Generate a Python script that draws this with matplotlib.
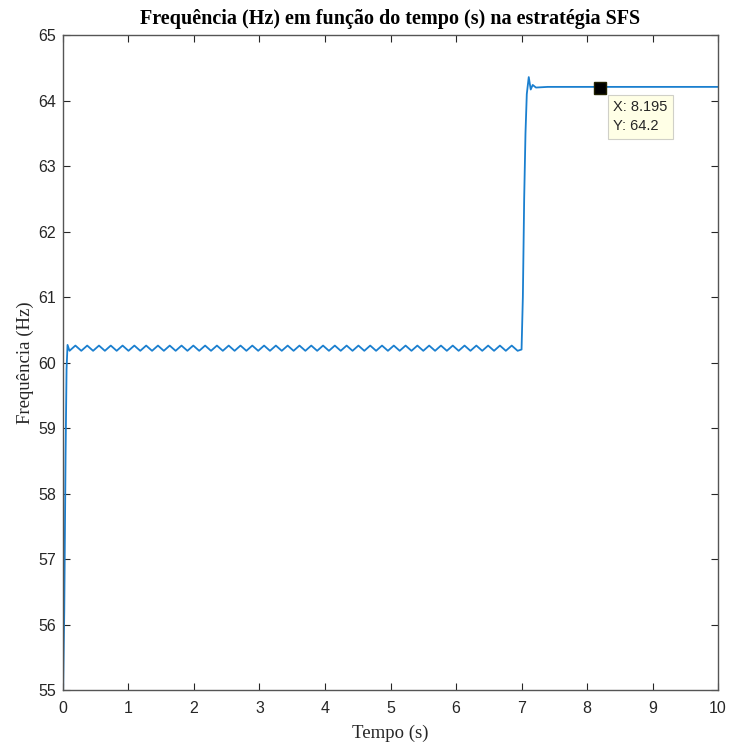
import numpy as np
import matplotlib.pyplot as plt

# Frequency signal
tempo = [0.0, 0.02, 0.04, 0.055, 0.07,
         0.10, 0.19, 0.28, 0.37, 0.46, 0.55, 0.64, 0.73, 0.82, 0.91,
         1.00, 1.09, 1.18, 1.27, 1.36, 1.45, 1.54, 1.63, 1.72, 1.81,
         1.90, 1.99, 2.08, 2.17, 2.26, 2.35, 2.44, 2.53, 2.62, 2.71,
         2.80, 2.89, 2.98, 3.07, 3.16, 3.25, 3.34, 3.43, 3.52, 3.61,
         3.70, 3.79, 3.88, 3.97, 4.06, 4.15, 4.24, 4.33, 4.42, 4.51,
         4.60, 4.69, 4.78, 4.87, 4.96, 5.05, 5.14, 5.23, 5.32, 5.41,
         5.50, 5.59, 5.68, 5.77, 5.86, 5.95, 6.04, 6.13, 6.22, 6.31,
         6.40, 6.49, 6.58, 6.67, 6.76, 6.85, 6.94,
         7.00, 7.02, 7.04, 7.06, 7.08, 7.11, 7.14, 7.17, 7.22, 7.40, 10.0]
freq = [54.8, 56.2, 58.6, 59.9, 60.27,
        60.18, 60.26, 60.18, 60.26, 60.18, 60.26, 60.18, 60.26, 60.18, 60.26,
        60.18, 60.26, 60.18, 60.26, 60.18, 60.26, 60.18, 60.26, 60.18, 60.26,
        60.18, 60.26, 60.18, 60.26, 60.18, 60.26, 60.18, 60.26, 60.18, 60.26,
        60.18, 60.26, 60.18, 60.26, 60.18, 60.26, 60.18, 60.26, 60.18, 60.26,
        60.18, 60.26, 60.18, 60.26, 60.18, 60.26, 60.18, 60.26, 60.18, 60.26,
        60.18, 60.26, 60.18, 60.26, 60.18, 60.26, 60.18, 60.26, 60.18, 60.26,
        60.18, 60.26, 60.18, 60.26, 60.18, 60.26, 60.18, 60.26, 60.18, 60.26,
        60.18, 60.26, 60.18, 60.26, 60.18, 60.26, 60.18,
        60.20, 61.0, 62.5, 63.5, 64.1, 64.36, 64.17, 64.24, 64.20, 64.21, 64.21]

tip_x = 8.195
tip_y = 64.2
x_ticks = list(range(0, 11))
y_ticks = list(range(55, 66))

fig = plt.figure(figsize=(7.32, 7.48), dpi=100)
ax = fig.add_axes([0.086, 0.0775, 0.895, 0.8755])

ax.plot(tempo, freq, color='#1a7fcf', lw=1.3)
ax.plot(tip_x, tip_y, marker='s', ms=8.5, color='black', markeredgecolor='#222200', zorder=5)
ax.annotate("X: 8.195\nY: 64.2", xy=(tip_x, tip_y), xytext=(9.8, -9.1),
            textcoords='offset points', ha='left', va='top', fontsize=10.5,
            family='Liberation Sans', linespacing=1.45, color='#262626',
            bbox=dict(boxstyle='square,pad=0.38', fc='#FFFFE6', ec='#D0D0C8', lw=0.8),
            zorder=6)

ax.set_xlim(0, 10)
ax.set_ylim(55, 65)
ax.set_xticks(x_ticks)
ax.set_yticks(y_ticks)
ax.tick_params(direction='in', top=True, right=True, length=5, width=0.8,
               labelsize=11.5, colors='#262626')
ax.tick_params(axis='x', pad=8)
ax.tick_params(axis='y', pad=5)
for lab in ax.get_xticklabels() + ax.get_yticklabels():
    lab.set_family('Liberation Sans')
for s in ax.spines.values():
    s.set_color('#555555')
    s.set_linewidth(1.0)

ax.set_title("Frequência (Hz) em função do tempo (s) na estratégia SFS",
             family='Liberation Serif', fontweight='bold', fontsize=14.5, pad=8)
ax.set_xlabel("Tempo (s)", family='Liberation Serif', fontsize=13.5, color='#262626', labelpad=6)
ax.set_ylabel("Frequência (Hz)", family='Liberation Serif', fontsize=13.5, color='#262626', labelpad=3)

plt.savefig('out.png', dpi=100)
